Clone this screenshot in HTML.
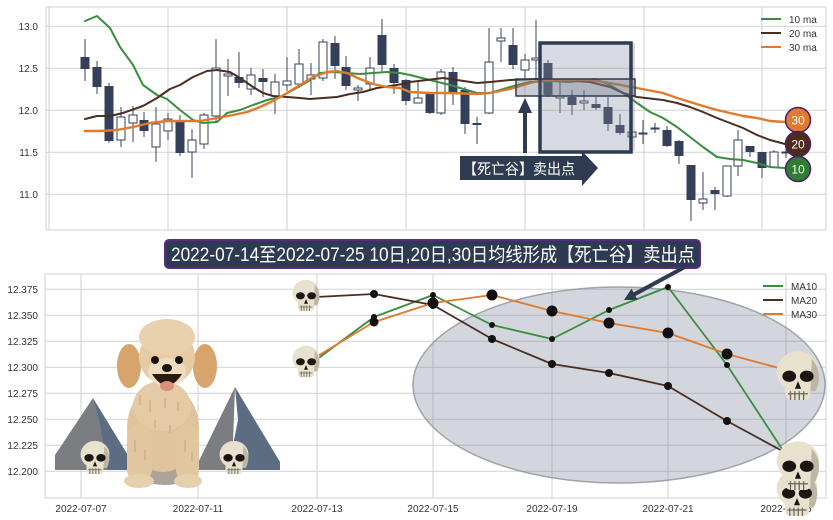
<!DOCTYPE html>
<html><head><meta charset="utf-8"><style>
html,body{margin:0;padding:0;background:#fff;}
svg{display:block;font-family:"Liberation Sans","Noto Sans CJK SC",sans-serif;}
</style></head><body>
<svg width="833" height="520" viewBox="0 0 833 520" xmlns="http://www.w3.org/2000/svg">
<defs>
<g id="skull">
<ellipse cx="20" cy="17" rx="17" ry="16" fill="#e8e1cd"/>
<rect x="10" y="24" width="20" height="16" rx="4" fill="#e8e1cd"/>
<path d="M31 7 Q41 18 34 33 L30 33 Z" fill="#bdb6a4"/>
<ellipse cx="13" cy="21" rx="5.5" ry="4.5" fill="#1c1612"/>
<ellipse cx="27" cy="21" rx="5.5" ry="4.5" fill="#1c1612"/>
<path d="M20 25 L17.5 31 H22.5 Z" fill="#1c1612"/>
<path d="M12 35 H28 M14 33V40 M17.5 33V40 M21 33V40 M24.5 33V40" stroke="#6b6458" stroke-width="1" fill="none"/>
</g>
</defs>
<rect width="833" height="520" fill="#fff"/>

<!-- ===== TOP CHART ===== -->
<g stroke="#d2d2d2" stroke-width="1" fill="none">
<path d="M46 26.3H826 M46 68.3H826 M46 110.3H826 M46 152.3H826 M46 194.3H826"/>
<path d="M49 7V230 M168 7V230 M287 7V230 M406 7V230 M525 7V230 M644 7V230 M762 7V230"/>
<rect x="46" y="7" width="780" height="223"/>
</g>
<g font-size="10" fill="#333" text-anchor="end">
<text x="38" y="30">13.0</text>
<text x="38" y="72">12.5</text>
<text x="38" y="114">12.0</text>
<text x="38" y="156">11.5</text>
<text x="38" y="198">11.0</text>
</g>

<!-- wicks -->
<path stroke="#3a4358" stroke-width="1" fill="none" d="M85 39V81 M97 61V94 M109 83V143 M121 107V147 M133 106V142 M144 112V137 M156 107V162 M168 113V140 M180 115V156 M192 129V178 M204 113V149 M216 39V121 M228 59V96 M239 52V88 M251 68V95 M263 69V97 M275 74V114 M287 57V91 M299 49V88 M311 63V95 M323 39V81 M335 36V79 M346 56V90 M358 85V101 M370 57V89 M382 19V72 M394 64V94 M406 79V105 M418 82V103 M430 92V114 M441 69V115 M453 67V105 M465 87V134 M477 117V144 M489 28V114 M501 28V62 M513 28V69 M525 54V80 M536 20V80 M548 60V97 M560 80V113 M572 90V115 M584 90V110 M596 97V110 M608 97V131 M620 114V135 M632 123V147 M643 120V144 M655 123V133 M667 126V147 M679 140V164 M691 165V221 M703 172V210 M715 187V210 M727 166V197 M738 130V176 M750 146V157 M762 152V178 M774 150V167 M786 148V158"/>
<!-- filled candles -->
<g fill="#34405a">
<rect x="80.5" y="57" width="9" height="12"/>
<rect x="92.5" y="67" width="9" height="20"/>
<rect x="104.5" y="86" width="9" height="55"/>
<rect x="139.5" y="120" width="9" height="11"/>
<rect x="175.5" y="121" width="9" height="32"/>
<rect x="234.5" y="77" width="9" height="6"/>
<rect x="258.5" y="78" width="9" height="4"/>
<rect x="330.5" y="43" width="9" height="23"/>
<rect x="341.5" y="67" width="9" height="19"/>
<rect x="377.5" y="35" width="9" height="30"/>
<rect x="389.5" y="68" width="9" height="15"/>
<rect x="401.5" y="80" width="9" height="21"/>
<rect x="425.5" y="94" width="9" height="19"/>
<rect x="448.5" y="72" width="9" height="20"/>
<rect x="460.5" y="90" width="9" height="34"/>
<rect x="472.5" y="123" width="9" height="2"/>
<rect x="508.5" y="45" width="9" height="20"/>
<rect x="543.5" y="63" width="9" height="32"/>
<rect x="567.5" y="97" width="9" height="8"/>
<rect x="591.5" y="104" width="9" height="4"/>
<rect x="603.5" y="107" width="9" height="17"/>
<rect x="615.5" y="125" width="9" height="8"/>
<rect x="662.5" y="130" width="9" height="16"/>
<rect x="674.5" y="141" width="9" height="15"/>
<rect x="686.5" y="165" width="9" height="35"/>
<rect x="710.5" y="190" width="9" height="4"/>
<rect x="745.5" y="146" width="9" height="6"/>
<rect x="757.5" y="152" width="9" height="16"/>
</g>
<!-- hollow candles -->
<g fill="#fff" stroke="#34405a" stroke-width="1">
<rect x="117" y="117" width="8" height="23"/>
<rect x="129" y="115" width="8" height="8"/>
<rect x="152" y="124" width="8" height="23"/>
<rect x="164" y="119" width="8" height="12"/>
<rect x="188" y="140" width="8" height="12"/>
<rect x="200" y="115" width="8" height="29"/>
<rect x="212" y="68" width="8" height="48"/>
<rect x="224" y="74" width="8" height="2"/>
<rect x="247" y="75" width="8" height="14"/>
<rect x="271" y="82" width="8" height="14"/>
<rect x="283" y="81" width="8" height="4"/>
<rect x="295" y="64" width="8" height="20"/>
<rect x="307" y="75" width="8" height="4"/>
<rect x="319" y="42" width="8" height="36"/>
<rect x="354" y="88" width="8" height="2"/>
<rect x="366" y="68" width="8" height="16"/>
<rect x="414" y="98" width="8" height="5"/>
<rect x="437" y="72" width="8" height="41"/>
<rect x="485" y="62" width="8" height="51"/>
<rect x="497" y="38" width="8" height="3"/>
<rect x="521" y="60" width="8" height="10"/>
<rect x="532" y="58" width="8" height="2"/>
<rect x="556" y="96" width="8" height="2"/>
<rect x="580" y="101" width="8" height="2"/>
<rect x="628" y="132" width="8" height="5"/>
<rect x="639" y="133" width="8" height="1"/>
<rect x="651" y="128" width="8" height="1"/>
<rect x="699" y="199" width="8" height="4"/>
<rect x="723" y="166" width="8" height="30"/>
<rect x="734" y="140" width="8" height="26"/>
<rect x="770" y="152" width="8" height="15"/>
<rect x="782" y="152" width="8" height="1"/>
</g>

<!-- MA lines top -->
<g fill="none" stroke-width="2" stroke-linejoin="round" stroke-linecap="round">
<polyline stroke="#3a8d40" points="85,21 97,16 110,28 120,47 133,65 143,85 157,95 167,99 180,110 193,120 203,123 217,122 227,113 240,110 253,105 267,100 280,97 293,90 307,82 320,73 333,72 347,73 360,74 373,73 387,72 400,73 410,75 430,80 450,85 477,93 490,93 510,87 530,82 550,81 570,82 595,79 610,85 623,93 637,103 650,112 663,118 677,127 690,137 703,147 717,157 730,159 743,160 757,163 770,167 785,168"/>
<polyline stroke="#4b2e22" points="85,119 97,116 110,116 123,113 143,106 157,98 170,89 180,85 193,77 207,71 217,70 230,72 240,78 253,87 263,93 273,96 287,97 300,98 310,99 323,98 337,97 350,94 363,92 377,88 390,86 403,84 410,82 427,80 443,78 457,80 477,83 490,82 510,80 537,79 563,80 590,82 610,87 623,93 637,97 663,100 677,103 690,107 703,112 717,118 730,123 743,128 757,135 770,140 785,144"/>
<polyline stroke="#e07a2e" stroke-width="2.4" points="85,131 100,131 117,130 133,127 150,123 167,121 187,121 200,121 217,118 233,115 247,112 260,107 273,101 287,93 300,85 313,77 327,72 337,71 347,73 360,79 373,84 387,87 400,88 410,92 430,93 450,93 477,94 490,93 510,89 530,83 543,80 563,80 590,80 610,83 637,88 663,93 677,98 690,102 703,106 717,110 730,113 743,116 757,118 770,121 785,122"/>
</g>

<!-- annotation boxes -->
<rect x="540" y="43" width="95" height="108" fill="rgba(130,140,158,0.32)"/>
<rect x="540" y="43" width="91" height="109" fill="none" stroke="#2e3b50" stroke-width="3.5"/>
<rect x="516" y="79" width="119" height="17" fill="rgba(100,110,128,0.35)" stroke="#2e3b50" stroke-width="1.5"/>
<!-- up arrow -->
<path d="M525 153V111" stroke="#2e3b50" stroke-width="4"/>
<polygon points="518,113 532,113 525,98" fill="#2e3b50"/>
<!-- label arrow -->
<polygon points="460,156 582,156 582,151 598,168 582,186 582,180 460,180" fill="#2e3b50"/>
<text x="463" y="174" font-size="15" fill="#fff" textLength="112" lengthAdjust="spacingAndGlyphs">【死亡谷】卖出点</text>

<!-- top legend -->
<g stroke-width="2">
<line x1="761" y1="19" x2="781" y2="19" stroke="#3a8d40"/>
<line x1="761" y1="33" x2="781" y2="33" stroke="#4b2e22"/>
<line x1="761" y1="47" x2="781" y2="47" stroke="#e07a2e"/>
</g>
<g font-size="10" fill="#333">
<text x="789" y="23">10 ma</text>
<text x="789" y="37">20 ma</text>
<text x="789" y="51">30 ma</text>
</g>
<!-- circles -->
<g stroke="#4a1f6e" stroke-width="1.5">
<circle cx="798" cy="120" r="12.5" fill="#e07a2e"/>
<circle cx="798" cy="144" r="12.5" fill="#4e2a1c"/>
<circle cx="798" cy="169" r="12.5" fill="#2e7d32"/>
</g>
<g font-size="12" fill="#fff" text-anchor="middle">
<text x="798" y="124.5">30</text>
<text x="798" y="148.5">20</text>
<text x="798" y="173.5">10</text>
</g>

<!-- ===== BANNER ===== -->
<rect x="165" y="240" width="535" height="28" rx="4" fill="#2d3a52" stroke="#5b2a86" stroke-width="2"/>
<text x="171" y="261" font-size="19" fill="#fff" textLength="524" lengthAdjust="spacingAndGlyphs">2022-07-14至2022-07-25 10日,20日,30日均线形成【死亡谷】卖出点</text>

<!-- ===== BOTTOM CHART ===== -->
<g stroke="#d2d2d2" stroke-width="1" fill="none">
<path d="M45 289.3H826 M45 315.3H826 M45 341.3H826 M45 367.3H826 M45 393.3H826 M45 419.3H826 M45 445.3H826 M45 471.3H826"/>
<path d="M81 274V498 M198 274V498 M317 274V498 M433 274V498 M552 274V498 M668 274V498 M786 274V498"/>
<rect x="45" y="274" width="781" height="224"/>
</g>
<g font-size="10" fill="#333" text-anchor="end">
<text x="38" y="293">12.375</text>
<text x="38" y="319">12.350</text>
<text x="38" y="345">12.325</text>
<text x="38" y="371">12.300</text>
<text x="38" y="397">12.275</text>
<text x="38" y="423">12.250</text>
<text x="38" y="449">12.225</text>
<text x="38" y="475">12.200</text>
</g>
<g font-size="10" fill="#333" text-anchor="middle">
<text x="81" y="512">2022-07-07</text>
<text x="198" y="512">2022-07-11</text>
<text x="317" y="512">2022-07-13</text>
<text x="433" y="512">2022-07-15</text>
<text x="552" y="512">2022-07-19</text>
<text x="668" y="512">2022-07-21</text>
<text x="786" y="512">2022-07-25</text>
</g>

<!-- ellipse -->
<ellipse cx="619" cy="385" rx="206" ry="98" fill="rgba(120,130,148,0.33)" stroke="rgba(140,146,156,0.8)" stroke-width="1.5"/>

<!-- lines -->
<g fill="none" stroke-width="1.8" stroke-linejoin="round">
<polyline stroke="#3a8d40" points="316,360 374,317 433,295 492,325 552,339 609,310 668,287 727,365 786,455"/>
<polyline stroke="#4b2e22" points="316,297 374,294 433,305 492,339 552,364 609,373 668,386 727,421 786,453"/>
<polyline stroke="#e07a2e" points="316,357 374,322 433,303 492,295 552,311 609,323 668,333 727,354 786,370"/>
</g>
<g fill="#111">
<circle cx="374" cy="294" r="4"/><circle cx="433" cy="305" r="4"/><circle cx="492" cy="339" r="4"/><circle cx="552" cy="364" r="4"/><circle cx="609" cy="373" r="4"/><circle cx="668" cy="386" r="4"/><circle cx="727" cy="421" r="4"/>
<circle cx="374" cy="322" r="4.5"/><circle cx="433" cy="303" r="5.5"/><circle cx="492" cy="295" r="5.5"/><circle cx="552" cy="311" r="5.5"/><circle cx="609" cy="323" r="5.5"/><circle cx="668" cy="333" r="5.5"/><circle cx="727" cy="354" r="5.5"/>
<circle cx="374" cy="317" r="3"/><circle cx="433" cy="295" r="3"/><circle cx="492" cy="325" r="3"/><circle cx="552" cy="339" r="3"/><circle cx="609" cy="310" r="3"/><circle cx="668" cy="287" r="3"/><circle cx="727" cy="365" r="3"/>
</g>

<!-- bottom legend -->
<g stroke-width="2">
<line x1="763" y1="286" x2="783" y2="286" stroke="#3a8d40"/>
<line x1="763" y1="300" x2="783" y2="300" stroke="#4b2e22"/>
<line x1="763" y1="314" x2="783" y2="314" stroke="#e07a2e"/>
</g>
<g font-size="10" fill="#333">
<text x="791" y="290">MA10</text>
<text x="791" y="304">MA20</text>
<text x="791" y="318">MA30</text>
</g>

<!-- arrow bottom -->
<path d="M683 268 L633 295" stroke="#2e3b50" stroke-width="4" stroke-linecap="round"/>
<polygon points="624,300 637.5,299.8 631.5,288.6" fill="#2e3b50"/>

<!-- skulls -->
<use href="#skull" transform="translate(290,279) scale(0.8)"/>
<use href="#skull" transform="translate(290,345) scale(0.8)"/>
<use href="#skull" transform="translate(773,350) scale(1.25)"/>
<use href="#skull" transform="translate(773,468) scale(1.2)"/>
<use href="#skull" transform="translate(773,440) scale(1.25)"/>

<!-- mountains -->
<polygon points="55,455 93,398 112,470 55,470" fill="#7c7d81"/>
<polygon points="93,398 132,462 132,470 108,470 100,425" fill="#5c6c83"/>
<polygon points="197,465 235,387 232,470 197,470" fill="#7c7d81"/>
<polygon points="235,387 280,462 280,470 228,470 238,420" fill="#5c6c83"/>
<use href="#skull" transform="translate(78,440) scale(0.85)"/>
<use href="#skull" transform="translate(217,440) scale(0.85)"/>

<!-- dog -->
<g>
<ellipse cx="165" cy="470" rx="30" ry="15" fill="#a9a39c"/>
<ellipse cx="163" cy="428" rx="36" ry="44" fill="#dfc39b"/>
<ellipse cx="162" cy="406" rx="29" ry="25" fill="#e4cba6"/>
<rect x="127" y="425" width="25" height="56" rx="11" fill="#e1c6a0"/>
<rect x="176" y="425" width="23" height="56" rx="11" fill="#e1c6a0"/>
<ellipse cx="139" cy="481" rx="15" ry="7" fill="#e6cfab"/>
<ellipse cx="188" cy="481" rx="14" ry="7" fill="#e6cfab"/>
<path d="M140 395v10 M150 400v12 M165 398v10 M178 402v9 M135 440v12 M145 450v10 M185 440v12 M192 452v9 M155 420v8 M170 425v8" stroke="#c4a27a" stroke-width="1"/>
<ellipse cx="129" cy="366" rx="12" ry="22" fill="#d7a56b"/>
<ellipse cx="205" cy="366" rx="12" ry="22" fill="#d7a56b"/>
<circle cx="167" cy="357" r="28" fill="#e6cba4"/>
<ellipse cx="167" cy="337" rx="28" ry="18" fill="#e9d1ad"/>
<ellipse cx="167" cy="372" rx="19" ry="14" fill="#efdcc0"/>
<circle cx="155" cy="360" r="4" fill="#1a1410"/>
<circle cx="179" cy="360" r="4" fill="#1a1410"/>
<ellipse cx="167" cy="368" rx="5" ry="4" fill="#1a1410"/>
<path d="M152 374 Q167 397 182 374 Z" fill="#2a1a14"/>
<ellipse cx="167" cy="386" rx="7" ry="5" fill="#d98f7a"/>
</g>
</svg>
</body></html>
